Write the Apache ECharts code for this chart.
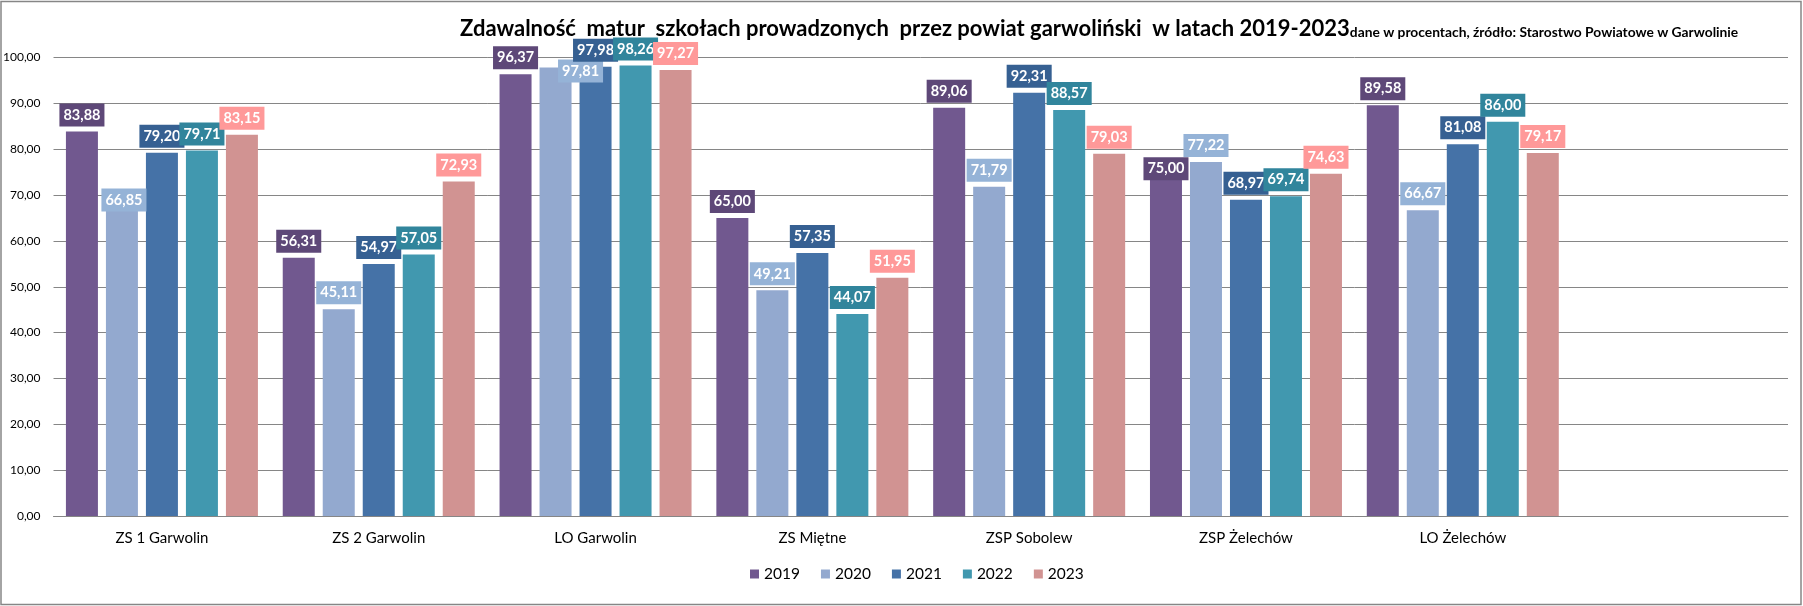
<!DOCTYPE html>
<html>
<head>
<meta charset="utf-8">
<script src="https://cdn.jsdelivr.net/npm/echarts@6/dist/echarts.min.js"></script>
<style>
html,body{margin:0;padding:0;background:#fff;}
#chart{width:1803px;height:606px;}
</style>
</head>
<body>
<div id="chart"></div>
<script>
// ---- data ----
const categories = ['ZS 1 Garwolin', 'ZS 2 Garwolin', 'LO Garwolin', 'ZS Miętne', 'ZSP Sobolew', 'ZSP Żelechów', 'LO Żelechów', ''];
const years = ['2019', '2020', '2021', '2022', '2023'];
const s2019 = [83.88, 56.31, 96.37, 65.00, 89.06, 75.00, 89.58, null];
const s2020 = [66.85, 45.11, 97.81, 49.21, 71.79, 77.22, 66.67, null];
const s2021 = [79.20, 54.97, 97.98, 57.35, 92.31, 68.97, 81.08, null];
const s2022 = [79.71, 57.05, 98.26, 44.07, 88.57, 69.74, 86.00, null];
const s2023 = [83.15, 72.93, 97.27, 51.95, 79.03, 74.63, 79.17, null];
const yTickLabels = ['0,00','10,00','20,00','30,00','40,00','50,00','60,00','70,00','80,00','90,00','100,00'];
const titleMain = 'Zdawalność  matur  szkołach prowadzonych  przez powiat garwoliński  w latach 2019-2023';
const titleNote = 'dane w procentach, źródło: Starostwo Powiatowe w Garwolinie';

// ---- styles ----
const seriesValues = [s2019, s2020, s2021, s2022, s2023];
const barColors = ['#71588F', '#93A9CF', '#4572A7', '#4198AF', '#D19392'];
const labelBg = ['#5E4878', '#95B3D7', '#366092', '#31859C', '#FF9999'];
// label nudges (Excel moved a few labels to avoid collisions)
const labelNudges = { 0: { 5: [0, 13] }, 1: { 0: [2, 7], 2: [25, 20] } };

const FONT = 'Lato, "Noto Sans", sans-serif';
const fmt = v => v.toFixed(2).replace('.', ',');

const series = seriesValues.map((vals, si) => ({
  name: years[si],
  type: 'bar',
  barWidth: 32,
  barGap: '25%',
  itemStyle: { color: barColors[si] },
  label: {
    show: true,
    position: 'top',
    distance: 5,
    color: '#fff',
    fontFamily: FONT,
    fontWeight: 'bold',
    fontSize: 14.5,
    lineHeight: 17,
    backgroundColor: labelBg[si],
    padding: [3, 4, 3, 4],
    formatter: p => fmt(p.value)
  },
  data: vals.map((v, i) => {
    const n = labelNudges[si] && labelNudges[si][i];
    return n ? { value: v, label: { offset: n } } : v;
  })
}));

const chart = echarts.init(document.getElementById('chart'), null, { renderer: 'canvas' });
chart.setOption({
  backgroundColor: '#fff',
  animation: false,
  title: {
    text: '{t|' + titleMain + '}{s|' + titleNote + '}',
    left: 455,
    top: 9,
    textStyle: {
      rich: {
        t: { fontFamily: FONT, fontWeight: 'bold', fontSize: 22, color: '#000', lineHeight: 26, verticalAlign: 'bottom' },
        s: { fontFamily: FONT, fontSize: 13.8, color: '#000', lineHeight: 21, verticalAlign: 'bottom' }
      }
    }
  },
  legend: {
    data: years,
    left: 745,
    top: 561,
    icon: 'rect',
    itemWidth: 9,
    itemHeight: 9,
    itemGap: 21,
    textStyle: { fontFamily: FONT, fontSize: 15.5, color: '#000' }
  },
  grid: { left: 52, right: 15, top: 57.5, bottom: 90, containLabel: false },
  xAxis: {
    type: 'category',
    data: categories,
    boundaryGap: true,
    axisLine: { show: true, lineStyle: { color: '#868686', width: 1 } },
    axisTick: { show: false },
    axisLabel: { margin: 15, fontFamily: FONT, fontSize: 15, color: '#000', interval: 0 }
  },
  yAxis: {
    type: 'value',
    min: 0,
    max: 100,
    interval: 10,
    axisLine: { show: false },
    axisTick: { show: false },
    splitLine: { lineStyle: { color: '#868686', width: 1 } },
    axisLabel: {
      margin: 13,
      fontFamily: FONT,
      fontSize: 12,
      color: '#000',
      formatter: v => yTickLabels[Math.round(v / 10)]
    }
  },
  graphic: [{
    type: 'rect',
    silent: true,
    shape: { x: 1, y: 1.5, width: 1800, height: 603 },
    style: { fill: null, stroke: '#868686', lineWidth: 1.5 },
    z: 100
  }],
  series: series
});
</script>
</body>
</html>
